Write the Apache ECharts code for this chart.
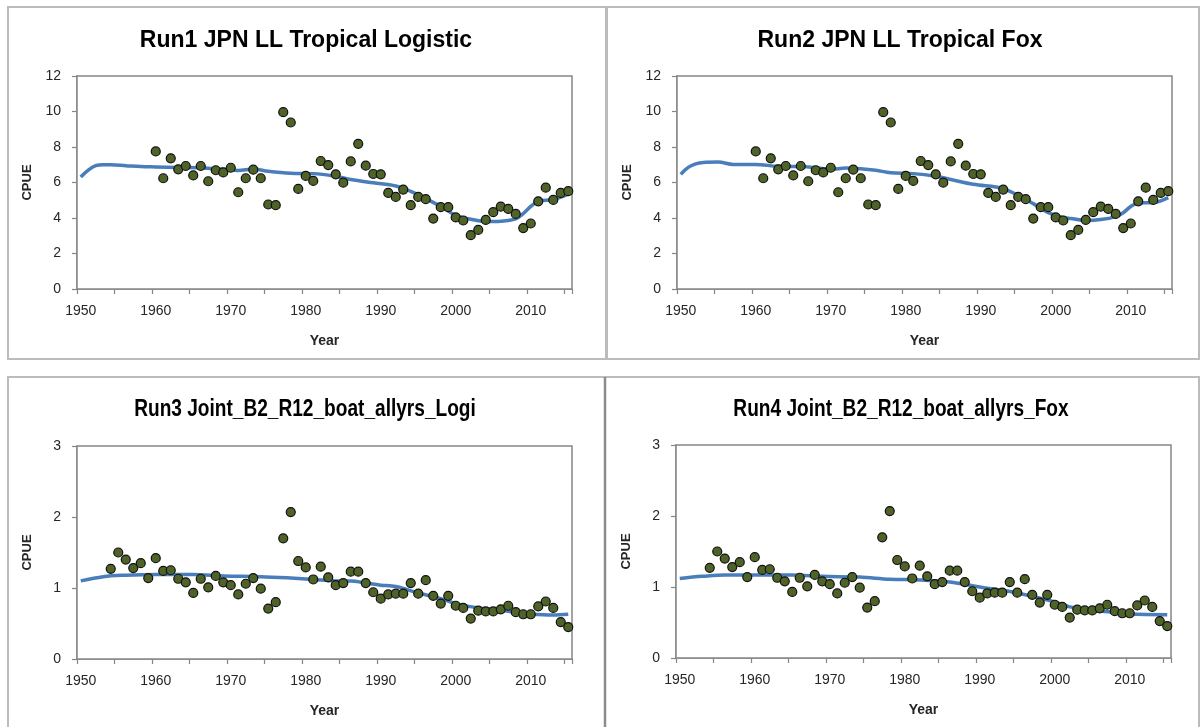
<!DOCTYPE html>
<html>
<head>
<meta charset="utf-8">
<script src="https://cdn.jsdelivr.net/npm/echarts@6/dist/echarts.min.js"></script>
<style>
  html, body { margin: 0; padding: 0; background: #ffffff; }
  #chart { width: 1200px; height: 727px; }
</style>
</head>
<body>
<div id="chart"></div>
<script>
// Year categories shared by all four panels
const years = [
  '1950','1951','1952','1953','1954','1955','1956','1957','1958','1959',
  '1960','1961','1962','1963','1964','1965','1966','1967','1968','1969',
  '1970','1971','1972','1973','1974','1975','1976','1977','1978','1979',
  '1980','1981','1982','1983','1984','1985','1986','1987','1988','1989',
  '1990','1991','1992','1993','1994','1995','1996','1997','1998','1999',
  '2000','2001','2002','2003','2004','2005','2006','2007','2008','2009',
  '2010','2011','2012','2013','2014','2015'
];

const panelTitles = [
  'Run1 JPN LL Tropical Logistic',
  'Run2 JPN LL Tropical Fox',
  'Run3 Joint_B2_R12_boat_allyrs_Logi',
  'Run4 Joint_B2_R12_boat_allyrs_Fox'
];

// Observed CPUE, JPN longline tropical index (runs 1 and 2), 1960-2015
const jpnStart = '1960';
const jpnCpue = [
  7.75, 6.24, 7.36, 6.74, 6.93, 6.40, 6.93, 6.07, 6.69, 6.57,
  6.83, 5.45, 6.24, 6.72, 6.24, 4.76, 4.72, 9.96, 9.38, 5.64,
  6.37, 6.09, 7.21, 6.98, 6.46, 5.99, 7.19, 8.18, 6.95, 6.48,
  6.46, 5.41, 5.19, 5.60, 4.72, 5.19, 5.06, 3.97, 4.61, 4.61,
  4.03, 3.86, 3.03, 3.33, 3.89, 4.33, 4.64, 4.51, 4.23, 3.43,
  3.69, 4.94, 5.71, 5.02, 5.41, 5.51
];

// Observed CPUE, joint standardised index (runs 3 and 4), 1954-2015
const jointStart = '1954';
const jointCpue = [
  1.27, 1.50, 1.40, 1.28, 1.35, 1.14,
  1.42, 1.24, 1.25, 1.13, 1.08, 0.93, 1.13, 1.01, 1.17, 1.08,
  1.04, 0.91, 1.06, 1.14, 0.99, 0.71, 0.80, 1.70, 2.07, 1.38,
  1.29, 1.12, 1.30, 1.15, 1.04, 1.07, 1.23, 1.23, 1.07, 0.94,
  0.85, 0.91, 0.92, 0.92, 1.07, 0.92, 1.11, 0.89, 0.78, 0.89,
  0.75, 0.72, 0.57, 0.68, 0.67, 0.67, 0.70, 0.75, 0.66, 0.63,
  0.63, 0.74, 0.81, 0.72, 0.52, 0.45
];

// Model-predicted CPUE (fitted curves)
const run1FitYears = ['1950','1951','1952','1953','1954','1956','1958','1960','1963','1966','1969','1971','1973','1975','1978','1981','1984','1986','1989','1992','1994','1996','1998','2000','2002','2004','2006','2008','2009','2010','2011','2013','2015'];
const run1Fit      = [6.31, 6.70, 6.95, 7.00, 7.00, 6.95, 6.90, 6.88, 6.85, 6.83, 6.74, 6.68, 6.76, 6.63, 6.52, 6.50, 6.35, 6.17, 5.98, 5.80, 5.50, 5.09, 4.65, 4.15, 3.93, 3.80, 3.82, 3.95, 4.25, 4.65, 4.95, 5.04, 5.34];

const run2FitYears = ['1950','1951','1952','1953','1955','1957','1960','1963','1966','1969','1970','1972','1974','1976','1978','1981','1984','1986','1989','1992','1993','1995','1997','1999','2001','2002','2004','2006','2008','2009','2010','2011','2013','2015'];
const run2Fit      = [6.46, 6.85, 7.05, 7.13, 7.15, 7.02, 7.02, 6.91, 6.90, 6.78, 6.74, 6.82, 6.78, 6.69, 6.55, 6.50, 6.35, 6.17, 5.90, 5.75, 5.66, 5.28, 4.81, 4.30, 4.03, 3.97, 3.86, 3.91, 4.08, 4.30, 4.65, 4.85, 4.87, 5.15];

const run3FitYears = ['1950','1953','1956','1960','1965','1969','1974','1978','1981','1984','1986','1988','1990','1992','1995','1998','2000','2003','2005','2008','2010','2013','2015'];
const run3Fit      = [1.10, 1.16, 1.18, 1.19, 1.19, 1.17, 1.16, 1.14, 1.12, 1.10, 1.10, 1.07, 1.04, 1.02, 0.93, 0.85, 0.78, 0.72, 0.70, 0.66, 0.635, 0.62, 0.63];

const run4FitYears = ['1950','1953','1956','1960','1965','1969','1974','1978','1982','1986','1990','1995','2000','2002','2005','2008','2010','2015'];
const run4Fit      = [1.12, 1.15, 1.17, 1.17, 1.17, 1.15, 1.14, 1.11, 1.10, 1.07, 1.00, 0.916, 0.79, 0.72, 0.676, 0.64, 0.62, 0.61];

// Y-axis ranges: [max, interval] for each panel
const yRanges = [[12, 2], [12, 2], [3, 1], [3, 1]];

function pairs(catList, vals) {
  return vals.map((v, i) => [catList[i], v]);
}
function observed(start, vals) {
  const s = years.indexOf(start);
  return vals.map((v, i) => [years[s + i], v]);
}

const obsSets = [
  observed(jpnStart, jpnCpue),
  observed(jpnStart, jpnCpue),
  observed(jointStart, jointCpue),
  observed(jointStart, jointCpue)
];
const fitSets = [
  pairs(run1FitYears, run1Fit),
  pairs(run2FitYears, run2Fit),
  pairs(run3FitYears, run3Fit),
  pairs(run4FitYears, run4Fit)
];

// Layout of each panel (frame box and plot area)
const frames = [
  { x: 8, y: 7, w: 598, h: 352 },
  { x: 607, y: 7, w: 592, h: 352 },
  { x: 8, y: 377, w: 597, h: 360 },
  { x: 605, y: 377, w: 594, h: 360 }
];
const plots = [
  { left: 77, top: 76, width: 495, height: 213 },
  { left: 677, top: 76, width: 495, height: 213 },
  { left: 77, top: 446, width: 495, height: 213 },
  { left: 676, top: 445, width: 495, height: 213 }
];
// Title placement: centre x, top y, horizontal condensing of the bold face
const titleBoxes = [
  { cx: 306, y: 29, sx: 1.0 },
  { cx: 900, y: 29, sx: 1.0 },
  { cx: 305, y: 398, sx: 0.83 },
  { cx: 901, y: 398, sx: 0.83 }
];

const FONT = '"Liberation Sans", Arial, sans-serif';
const axisGrey = '#868686';
const textCol = '#262626';

const grid = [], xAxis = [], yAxis = [], series = [], graphic = [];

frames.forEach((f) => {
  graphic.push({
    type: 'rect', z: 0,
    shape: { x: f.x, y: f.y, width: f.w, height: f.h },
    style: { fill: '#ffffff', stroke: '#bcbcbc', lineWidth: 2 },
    silent: true
  });
});
// darker divider between the two lower panels
graphic.push({
  type: 'line', z: 1, silent: true,
  shape: { x1: 605, y1: 377, x2: 605, y2: 727 },
  style: { stroke: '#8c8c8c', lineWidth: 2.5 }
});
// panel titles
titleBoxes.forEach((t, i) => {
  graphic.push({
    type: 'text', z: 5, silent: true,
    x: t.cx, y: t.y, scaleX: t.sx, scaleY: 1,
    style: {
      text: panelTitles[i],
      fontFamily: FONT, fontWeight: 'bold', fontSize: 23,
      fill: '#000000', align: 'center', verticalAlign: 'top'
    }
  });
});

plots.forEach((p, i) => {
  grid.push({
    left: p.left, top: p.top, width: p.width, height: p.height,
    show: true, borderColor: axisGrey, borderWidth: 1.5, backgroundColor: '#ffffff',
    z: 1
  });
  xAxis.push({
    type: 'category', gridIndex: i, data: years, boundaryGap: true,
    name: 'Year', nameLocation: 'middle', nameGap: 45,
    nameTextStyle: { fontFamily: FONT, fontWeight: 'bold', fontSize: 14, color: textCol },
    axisLine: { show: true, lineStyle: { color: axisGrey, width: 1.5 } },
    axisTick: { show: true, interval: 4, length: 5, lineStyle: { color: axisGrey, width: 1.2 } },
    axisLabel: { interval: 9, margin: 15, fontFamily: FONT, fontSize: 14, color: textCol },
    splitLine: { show: false }
  });
  yAxis.push({
    type: 'value', gridIndex: i, min: 0, max: yRanges[i][0], interval: yRanges[i][1],
    name: 'CPUE', nameLocation: 'middle', nameGap: 43, nameRotate: 90,
    nameTextStyle: { fontFamily: FONT, fontWeight: 'bold', fontSize: 13, color: textCol },
    axisLine: { show: true, lineStyle: { color: axisGrey, width: 1.5 } },
    axisTick: { show: true, length: 5, lineStyle: { color: axisGrey, width: 1.2 } },
    axisLabel: { margin: 16, fontFamily: FONT, fontSize: 14, color: textCol },
    splitLine: { show: false }
  });
  series.push({
    type: 'line', xAxisIndex: i, yAxisIndex: i,
    data: fitSets[i], smooth: 0.35, showSymbol: false, symbol: 'none',
    lineStyle: { color: '#4a7ebb', width: 3.5 }, z: 2, silent: true
  });
  series.push({
    type: 'scatter', xAxisIndex: i, yAxisIndex: i,
    data: obsSets[i], symbol: 'circle', symbolSize: 9,
    itemStyle: { color: '#4f6228', borderColor: '#111111', borderWidth: 1.2, opacity: 1 },
    z: 3, silent: true
  });
});

const chart = echarts.init(document.getElementById('chart'), null, { renderer: 'canvas' });
chart.setOption({
  animation: false,
  backgroundColor: '#ffffff',
  graphic: graphic,
  grid: grid,
  xAxis: xAxis,
  yAxis: yAxis,
  series: series
});
</script>
</body>
</html>
